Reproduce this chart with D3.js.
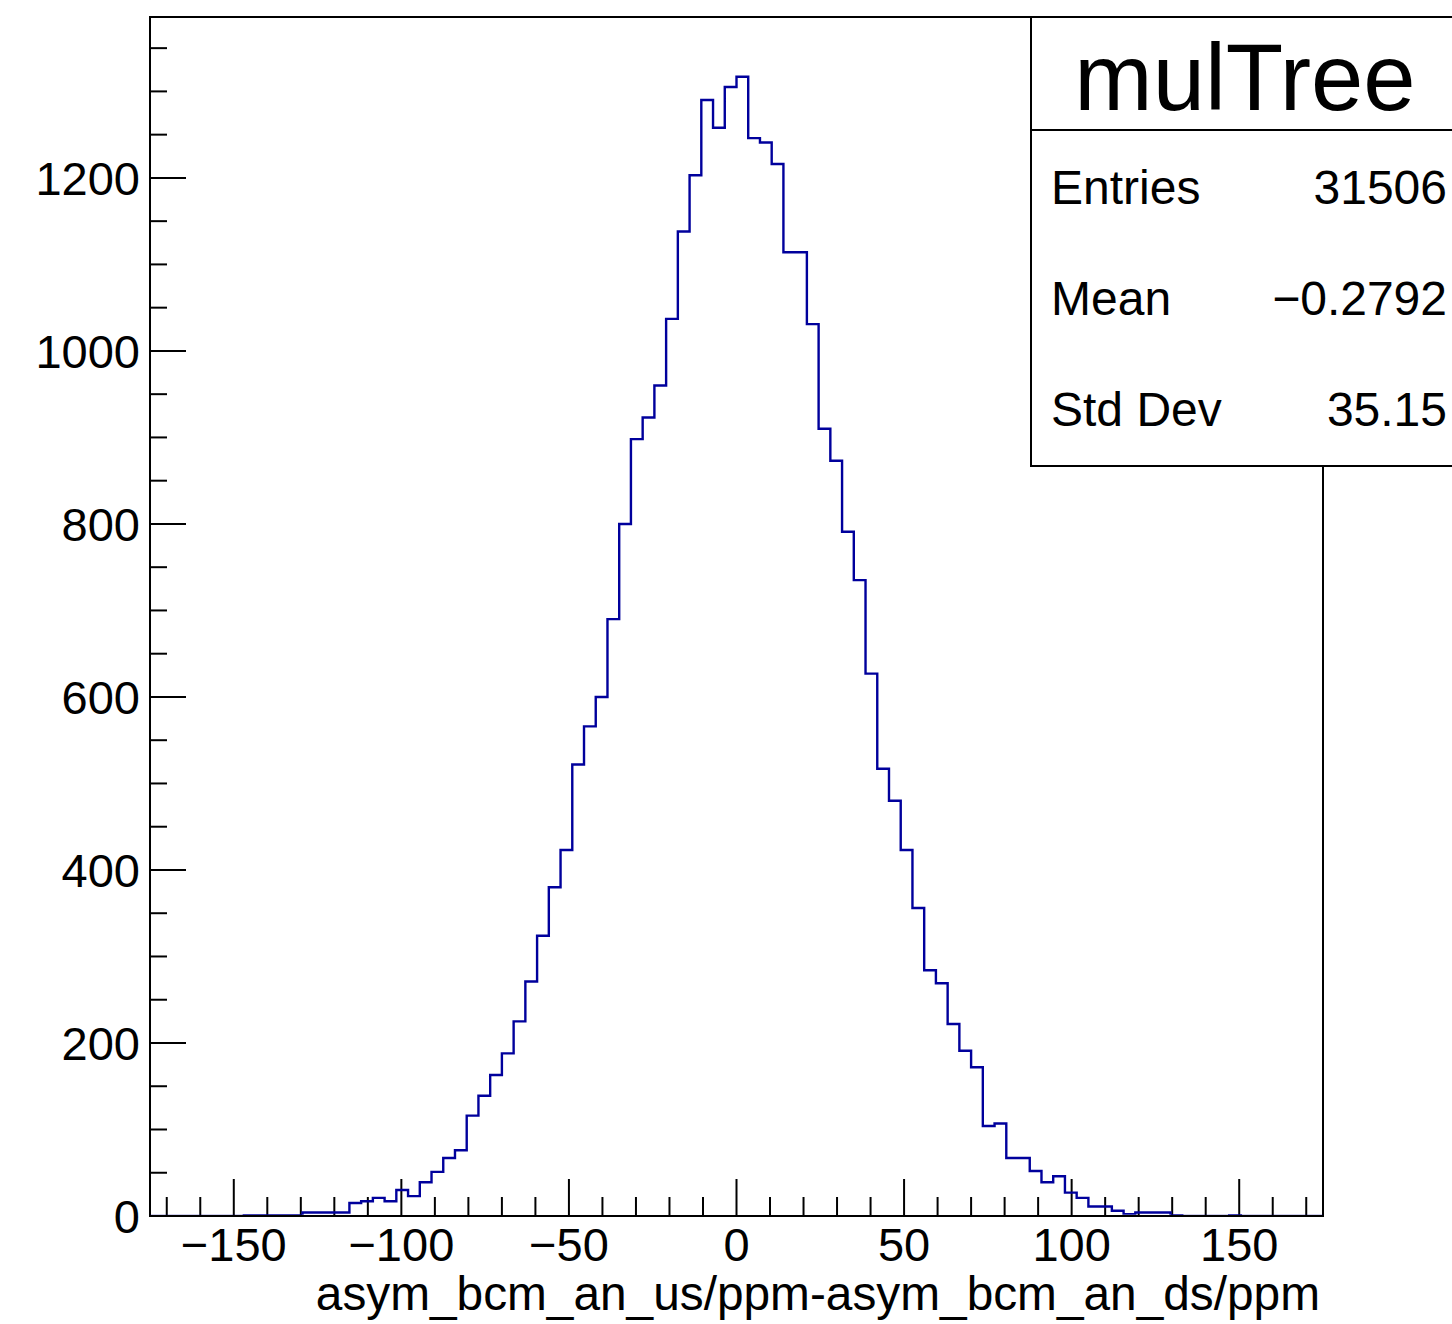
<!DOCTYPE html>
<html>
<head>
<meta charset="utf-8">
<script src="https://cdn.jsdelivr.net/npm/d3@7"></script>
<style>
  html, body { margin: 0; padding: 0; background: #fff; }
  svg { display: block; }
  text { font-family: "Liberation Sans", Arial, Helvetica, sans-serif; fill: #000; }
</style>
</head>
<body>
<svg id="chart" width="1452" height="1324"></svg>
<script>
// ---- data ----
const xMin = -175, xMax = 175;           // histogram range
const counts = [
  0, 0, 0, 0, 0, 0, 0, 0, 1, 1,
  1, 1, 1, 4, 4, 4, 4, 15, 17, 21,
  17, 30, 23, 39, 51, 67, 76, 116, 139, 163,
  188, 225, 271, 324, 380, 423, 522, 566, 600, 690,
  800, 898, 923, 960, 1037, 1138, 1203, 1290, 1258, 1305,
  1317, 1246, 1241, 1216, 1114, 1114, 1031, 910, 873, 791,
  735, 627, 517, 480, 423, 356, 284, 269, 222, 191,
  172, 104, 107, 67, 67, 52, 39, 46, 27, 21,
  11, 11, 6, 2, 4, 4, 4, 1, 0, 0,
  0, 0, 1, 0, 0, 0, 0, 0, 0, 0
];
const yMax = 1386;
const yMajorTicks = [0, 200, 400, 600, 800, 1000, 1200];
const xMajorTicks = [-150, -100, -50, 0, 50, 100, 150];
const xTitle = "asym_bcm_an_us/ppm-asym_bcm_an_ds/ppm";
const statsTitle = "mulTree";
const statLabels = ["Entries", "Mean", "Std Dev"];
const statValues = ["31506", "\u22120.2792", "35.15"];

// ---- layout ----
const L = 150, R = 1323, T = 17, B = 1216;
const svg = d3.select("#chart");
const x = d3.scaleLinear().domain([xMin, xMax]).range([L, R]);
const y = d3.scaleLinear().domain([0, yMax]).range([B, T]);
const binW = (xMax - xMin) / counts.length;

const fmt = v => (v < 0 ? "\u2212" + Math.abs(v) : String(v));

// histogram clip (values at zero are hidden under the axis, like ROOT)
svg.append("clipPath").attr("id", "frameClip")
  .append("rect").attr("x", L).attr("y", T).attr("width", R - L).attr("height", B - T - 1.2);

const pts = counts.map((c, i) => [xMin + i * binW, c]);
pts.push([xMax, counts[counts.length - 1]]);
const line = d3.line().x(d => x(d[0])).y(d => y(d[1])).curve(d3.curveStepAfter);

// frame
svg.append("rect").attr("x", L).attr("y", T).attr("width", R - L).attr("height", B - T)
  .attr("fill", "none").attr("stroke", "#000").attr("stroke-width", 2);

// y axis ticks
const yMinor = d3.range(0, yMax + 1, 50);
svg.append("g").selectAll("line").data(yMinor).join("line")
  .attr("x1", L).attr("x2", d => L + (d % 200 === 0 ? 36 : 17))
  .attr("y1", d => y(d)).attr("y2", d => y(d))
  .attr("stroke", "#000").attr("stroke-width", 2);
svg.append("g").selectAll("text").data(yMajorTicks).join("text")
  .attr("x", 140).attr("y", d => y(d) + 17)
  .attr("text-anchor", "end").attr("font-size", 47)
  .text(d => fmt(d));

// x axis ticks
const xMinor = d3.range(-170, 171, 10);
svg.append("g").selectAll("line").data(xMinor).join("line")
  .attr("x1", d => x(d)).attr("x2", d => x(d))
  .attr("y1", B).attr("y2", d => B - (d % 50 === 0 ? 37 : 19))
  .attr("stroke", "#000").attr("stroke-width", 2);
svg.append("g").selectAll("text").data(xMajorTicks).join("text")
  .attr("x", d => x(d)).attr("y", 1261)
  .attr("text-anchor", "middle").attr("font-size", 47)
  .text(d => fmt(d));

// x title
svg.append("text").attr("x", 1320).attr("y", 1310)
  .attr("text-anchor", "end").attr("font-size", 47.8).text(xTitle);

// histogram line
svg.append("path").attr("d", line(pts))
  .attr("clip-path", "url(#frameClip)")
  .attr("fill", "none").attr("stroke", "#00009c").attr("stroke-width", 2.4);

// stats box
const bx = 1031, by = T, bw = 430, bh = 466 - T;
const sb = svg.append("g");
sb.append("rect").attr("x", bx).attr("y", by).attr("width", bw).attr("height", bh)
  .attr("fill", "#fff").attr("stroke", "#000").attr("stroke-width", 2);
sb.append("line").attr("x1", bx).attr("x2", bx + bw).attr("y1", 130).attr("y2", 130)
  .attr("stroke", "#000").attr("stroke-width", 2);
sb.append("text").attr("x", 1245).attr("y", 110).attr("text-anchor", "middle")
  .attr("font-size", 94).text(statsTitle);
const rowY = [204, 315, 426];
sb.selectAll("text.lab").data(statLabels).join("text").attr("class", "lab")
  .attr("x", 1051).attr("y", (d, i) => rowY[i]).attr("font-size", 48).text(d => d);
sb.selectAll("text.val").data(statValues).join("text").attr("class", "val")
  .attr("x", 1447).attr("y", (d, i) => rowY[i]).attr("text-anchor", "end")
  .attr("font-size", 48).text(d => d);
</script>
</body>
</html>
